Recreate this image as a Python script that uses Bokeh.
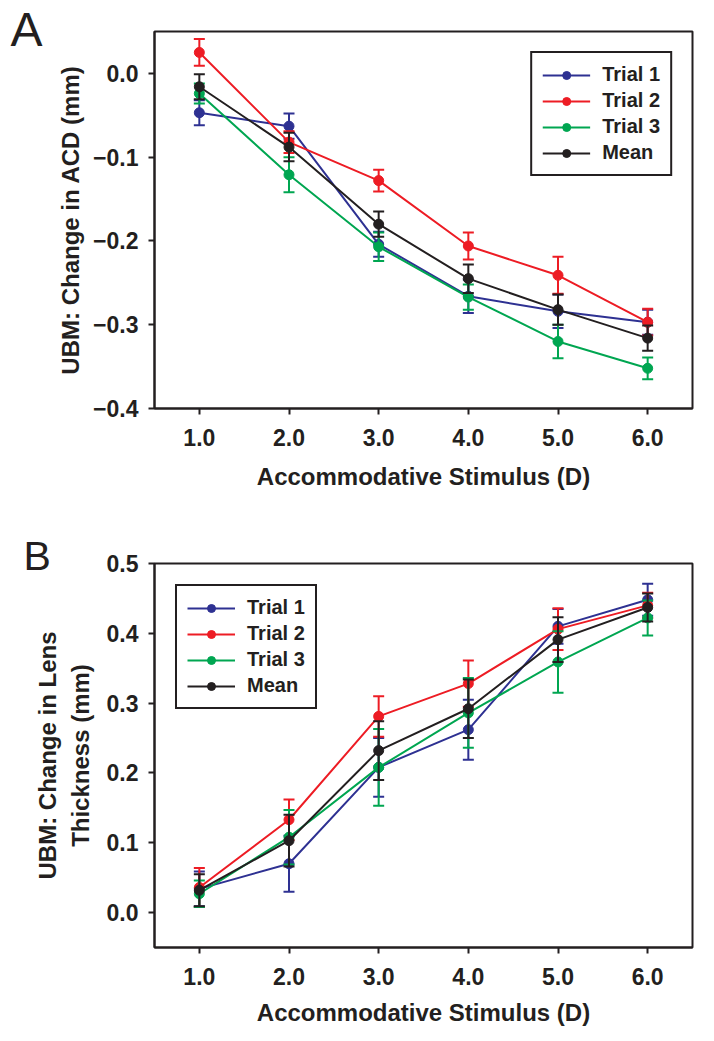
from bokeh.plotting import figure
from bokeh.models import FixedTicker, Legend, LegendItem, Title
from bokeh.layouts import column
from bokeh.embed import file_html
from bokeh.resources import INLINE

# ---------------- data ----------------
stimulus = [1, 2, 3, 4, 5, 6]
x_tick_labels = ["1.0", "2.0", "3.0", "4.0", "5.0", "6.0"]
series_names = ["Trial 1", "Trial 2", "Trial 3", "Mean"]
series_colors = ["#2e3192", "#ed1c24", "#00a651", "#231f20"]

# Panel A: change in ACD (mm)
acd_trial1 = [-0.047, -0.063, -0.204, -0.266, -0.284, -0.297]
acd_trial1_err = [0.015, 0.015, 0.015, 0.020, 0.020, 0.015]
acd_trial2 = [0.025, -0.082, -0.128, -0.206, -0.241, -0.297]
acd_trial2_err = [0.016, 0.013, 0.013, 0.016, 0.022, 0.016]
acd_trial3 = [-0.024, -0.121, -0.207, -0.267, -0.320, -0.352]
acd_trial3_err = [0.012, 0.021, 0.017, 0.015, 0.020, 0.013]
acd_mean = [-0.016, -0.088, -0.180, -0.245, -0.282, -0.316]
acd_mean_err = [0.015, 0.017, 0.015, 0.017, 0.018, 0.015]
acd_yticks = [0.0, -0.1, -0.2, -0.3, -0.4]
acd_ytick_labels = ["0.0", "\u22120.1", "\u22120.2", "\u22120.3", "\u22120.4"]

# Panel B: change in lens thickness (mm)
lt_trial1 = [0.034, 0.070, 0.208, 0.262, 0.410, 0.448]
lt_trial1_err = [0.025, 0.040, 0.042, 0.043, 0.025, 0.023]
lt_trial2 = [0.036, 0.133, 0.281, 0.328, 0.406, 0.440]
lt_trial2_err = [0.028, 0.029, 0.029, 0.033, 0.030, 0.018]
lt_trial3 = [0.027, 0.108, 0.208, 0.286, 0.359, 0.422]
lt_trial3_err = [0.019, 0.039, 0.055, 0.050, 0.044, 0.025]
lt_mean = [0.032, 0.103, 0.232, 0.292, 0.391, 0.437]
lt_mean_err = [0.023, 0.037, 0.042, 0.042, 0.032, 0.020]
lt_yticks = [0.0, 0.1, 0.2, 0.3, 0.4, 0.5]
lt_ytick_labels = ["0.0", "0.1", "0.2", "0.3", "0.4", "0.5"]

INK = "#231f20"
FONT = "Liberation Sans"


def make_panel(width, height, borders, y_range, yticks, ytick_labels, ylabel,
               series, legend_loc, legend_margin, x_label_standoff, y_label_standoff,
               letter, letter_size, letter_offset, letter_standoff):
    bl, br, bt, bb = borders
    p = figure(width=width, height=height, x_range=(0.5, 6.5), y_range=y_range,
               output_backend="svg", toolbar_location=None,
               min_border_left=bl, min_border_right=br,
               min_border_top=bt, min_border_bottom=bb)
    p.title = Title(text=letter, align="left", offset=letter_offset,
                    standoff=letter_standoff, text_font=FONT,
                    text_font_size=letter_size, text_font_style="normal",
                    text_color=INK)
    p.xgrid.visible = False
    p.ygrid.visible = False
    p.outline_line_color = INK
    p.outline_line_width = 2
    p.background_fill_color = "white"
    p.border_fill_color = "white"

    p.xaxis.ticker = FixedTicker(ticks=stimulus)
    p.xaxis.major_label_overrides = {t: l for t, l in zip(stimulus, x_tick_labels)}
    p.yaxis.ticker = FixedTicker(ticks=yticks)
    p.yaxis.major_label_overrides = {t: l for t, l in zip(yticks, ytick_labels)}
    p.xaxis.axis_label = "Accommodative Stimulus (D)"
    p.yaxis.axis_label = ylabel

    for ax in (p.xaxis[0], p.yaxis[0]):
        ax.axis_line_color = INK
        ax.axis_line_width = 2
        ax.major_tick_line_color = INK
        ax.major_tick_line_width = 2
        ax.major_tick_out = 6
        ax.major_tick_in = 0
        ax.minor_tick_line_color = None
        ax.major_label_text_font = FONT
        ax.major_label_text_font_style = "bold"
        ax.major_label_text_font_size = "23px"
        ax.major_label_text_color = INK
        ax.axis_label_text_font = FONT
        ax.axis_label_text_font_style = "bold"
        ax.axis_label_text_font_size = "24px"
        ax.axis_label_text_color = INK
    p.xaxis.major_label_standoff = 14
    p.yaxis.major_label_standoff = 10
    p.xaxis.axis_label_standoff = x_label_standoff
    p.yaxis.axis_label_standoff = y_label_standoff

    items = []
    for name, color, (yv, ev) in zip(series_names, series_colors, series):
        lo = [v - e for v, e in zip(yv, ev)]
        hi = [v + e for v, e in zip(yv, ev)]
        p.segment(x0=stimulus, y0=lo, x1=stimulus, y1=hi, line_color=color, line_width=2)
        p.scatter(x=stimulus + stimulus, y=lo + hi, marker="dash", size=11,
                  line_color=color, line_width=2)
        r_line = p.line(x=stimulus, y=yv, line_color=color, line_width=2)
        r_pts = p.scatter(x=stimulus, y=yv, marker="circle", size=10,
                          fill_color=color, line_color=color)
        items.append(LegendItem(label=name, renderers=[r_line, r_pts]))

    legend = Legend(items=items, location=legend_loc)
    legend.label_text_font = FONT
    legend.label_text_font_style = "bold"
    legend.label_text_font_size = "20px"
    legend.label_text_color = INK
    legend.glyph_width = 48
    legend.glyph_height = 20
    legend.label_height = 20
    legend.label_standoff = 12
    legend.spacing = 3
    legend.padding = 10
    legend.margin = legend_margin
    legend.border_line_color = INK
    legend.border_line_width = 2
    legend.border_line_alpha = 1.0
    legend.background_fill_alpha = 1.0
    p.add_layout(legend)
    return p


pA = make_panel(714, 520, (152, 22, 31, 112), (-0.4, 0.05), acd_yticks, acd_ytick_labels,
                "UBM: Change in ACD (mm)",
                [(acd_trial1, acd_trial1_err), (acd_trial2, acd_trial2_err),
                 (acd_trial3, acd_trial3_err), (acd_mean, acd_mean_err)],
                "top_right", 20, 14, 6,
                "A", "48px", -144, -48)

pB = make_panel(714, 521, (154, 14, 43, 94), (-0.05, 0.5), lt_yticks, lt_ytick_labels,
                "UBM: Change in Lens\nThickness (mm)",
                [(lt_trial1, lt_trial1_err), (lt_trial2, lt_trial2_err),
                 (lt_trial3, lt_trial3_err), (lt_mean, lt_mean_err)],
                "top_left", 21, 11, 10,
                "B", "41px", -131, -30)

layout = column(pA, pB)
open("out.html", "w").write(file_html(layout, INLINE))
